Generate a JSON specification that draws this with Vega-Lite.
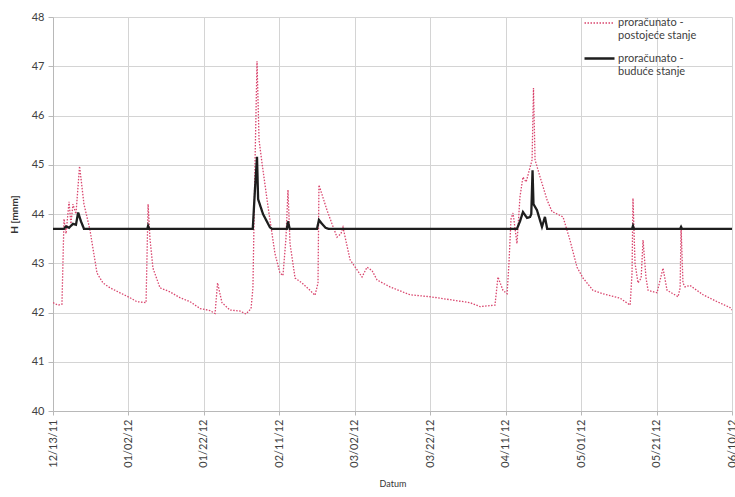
{
  "$schema": "https://vega.github.io/schema/vega-lite/v6.json",
  "autosize": {"type": "none"},
  "width": 679,
  "height": 394,
  "padding": {"left": 53, "top": 17, "right": 3, "bottom": 86},
  "background": "white",
  "config": {
    "view": {"stroke": null},
    "font": "Lato",
    "axis": {
      "gridColor": "#d4d4d4",
      "gridWidth": 1,
      "domainColor": "#b8b8b8",
      "tickColor": "#b8b8b8",
      "labelColor": "#404040",
      "labelFont": "Lato",
      "labelFontSize": 11,
      "titleFont": "Lato",
      "titleColor": "#333333"
    },
    "legend": {
      "labelFont": "Lato",
      "labelFontSize": 11,
      "labelColor": "#404040"
    }
  },
  "data": {
    "values": [
      {"date": "2011-12-13T00:00", "H": 42.2, "series": "proračunato - postojeće stanje"},
      {"date": "2011-12-14T08:00", "H": 42.15, "series": "proračunato - postojeće stanje"},
      {"date": "2011-12-15T09:00", "H": 42.17, "series": "proračunato - postojeće stanje"},
      {"date": "2011-12-15T22:00", "H": 43.9, "series": "proračunato - postojeće stanje"},
      {"date": "2011-12-16T11:00", "H": 43.6, "series": "proračunato - postojeće stanje"},
      {"date": "2011-12-17T06:00", "H": 44.25, "series": "proračunato - postojeće stanje"},
      {"date": "2011-12-17T18:00", "H": 43.8, "series": "proračunato - postojeće stanje"},
      {"date": "2011-12-18T07:00", "H": 44.2, "series": "proračunato - postojeće stanje"},
      {"date": "2011-12-19T02:00", "H": 44.0, "series": "proračunato - postojeće stanje"},
      {"date": "2011-12-20T01:00", "H": 44.97, "series": "proračunato - postojeće stanje"},
      {"date": "2011-12-21T05:00", "H": 44.2, "series": "proračunato - postojeće stanje"},
      {"date": "2011-12-22T19:00", "H": 43.68, "series": "proračunato - postojeće stanje"},
      {"date": "2011-12-24T16:00", "H": 42.8, "series": "proračunato - postojeće stanje"},
      {"date": "2011-12-26T06:00", "H": 42.6, "series": "proračunato - postojeće stanje"},
      {"date": "2011-12-28T03:00", "H": 42.5, "series": "proračunato - postojeće stanje"},
      {"date": "2011-12-30T18:00", "H": 42.4, "series": "proračunato - postojeće stanje"},
      {"date": "2012-01-02T10:00", "H": 42.3, "series": "proračunato - postojeće stanje"},
      {"date": "2012-01-04T06:00", "H": 42.22, "series": "proračunato - postojeće stanje"},
      {"date": "2012-01-06T16:00", "H": 42.2, "series": "proračunato - postojeće stanje"},
      {"date": "2012-01-07T05:00", "H": 44.2, "series": "proračunato - postojeće stanje"},
      {"date": "2012-01-07T17:00", "H": 43.5, "series": "proračunato - postojeće stanje"},
      {"date": "2012-01-08T12:00", "H": 42.9, "series": "proračunato - postojeće stanje"},
      {"date": "2012-01-10T09:00", "H": 42.5, "series": "proračunato - postojeće stanje"},
      {"date": "2012-01-13T00:00", "H": 42.42, "series": "proračunato - postojeće stanje"},
      {"date": "2012-01-15T16:00", "H": 42.3, "series": "proračunato - postojeće stanje"},
      {"date": "2012-01-18T08:00", "H": 42.22, "series": "proračunato - postojeće stanje"},
      {"date": "2012-01-21T00:00", "H": 42.08, "series": "proračunato - postojeće stanje"},
      {"date": "2012-01-23T15:00", "H": 42.04, "series": "proračunato - postojeće stanje"},
      {"date": "2012-01-24T23:00", "H": 41.98, "series": "proračunato - postojeće stanje"},
      {"date": "2012-01-25T15:00", "H": 42.6, "series": "proračunato - postojeće stanje"},
      {"date": "2012-01-26T19:00", "H": 42.2, "series": "proračunato - postojeće stanje"},
      {"date": "2012-01-28T22:00", "H": 42.05, "series": "proračunato - postojeće stanje"},
      {"date": "2012-01-31T14:00", "H": 42.03, "series": "proračunato - postojeće stanje"},
      {"date": "2012-02-02T04:00", "H": 41.97, "series": "proračunato - postojeće stanje"},
      {"date": "2012-02-03T12:00", "H": 42.08, "series": "proračunato - postojeće stanje"},
      {"date": "2012-02-04T00:00", "H": 42.5, "series": "proračunato - postojeće stanje"},
      {"date": "2012-02-04T13:00", "H": 45.0, "series": "proračunato - postojeće stanje"},
      {"date": "2012-02-05T02:00", "H": 47.1, "series": "proračunato - postojeće stanje"},
      {"date": "2012-02-05T15:00", "H": 45.5, "series": "proračunato - postojeće stanje"},
      {"date": "2012-02-06T10:00", "H": 45.03, "series": "proračunato - postojeće stanje"},
      {"date": "2012-02-08T00:00", "H": 44.15, "series": "proračunato - postojeće stanje"},
      {"date": "2012-02-09T20:00", "H": 43.2, "series": "proračunato - postojeće stanje"},
      {"date": "2012-02-11T04:00", "H": 42.8, "series": "proračunato - postojeće stanje"},
      {"date": "2012-02-11T23:00", "H": 42.75, "series": "proračunato - postojeće stanje"},
      {"date": "2012-02-12T18:00", "H": 43.5, "series": "proračunato - postojeće stanje"},
      {"date": "2012-02-13T07:00", "H": 44.49, "series": "proračunato - postojeće stanje"},
      {"date": "2012-02-13T20:00", "H": 43.4, "series": "proračunato - postojeće stanje"},
      {"date": "2012-02-15T04:00", "H": 42.7, "series": "proračunato - postojeće stanje"},
      {"date": "2012-02-17T00:00", "H": 42.6, "series": "proračunato - postojeće stanje"},
      {"date": "2012-02-19T03:00", "H": 42.45, "series": "proračunato - postojeće stanje"},
      {"date": "2012-02-20T11:00", "H": 42.35, "series": "proračunato - postojeće stanje"},
      {"date": "2012-02-21T06:00", "H": 42.6, "series": "proračunato - postojeće stanje"},
      {"date": "2012-02-21T12:00", "H": 44.59, "series": "proračunato - postojeće stanje"},
      {"date": "2012-02-22T07:00", "H": 44.4, "series": "proračunato - postojeće stanje"},
      {"date": "2012-02-23T15:00", "H": 44.08, "series": "proračunato - postojeće stanje"},
      {"date": "2012-02-24T23:00", "H": 43.8, "series": "proračunato - postojeće stanje"},
      {"date": "2012-02-26T07:00", "H": 43.53, "series": "proračunato - postojeće stanje"},
      {"date": "2012-02-27T08:00", "H": 43.6, "series": "proračunato - postojeće stanje"},
      {"date": "2012-02-27T21:00", "H": 43.73, "series": "proračunato - postojeće stanje"},
      {"date": "2012-02-29T18:00", "H": 43.07, "series": "proračunato - postojeće stanje"},
      {"date": "2012-03-02T14:00", "H": 42.87, "series": "proračunato - postojeće stanje"},
      {"date": "2012-03-03T22:00", "H": 42.72, "series": "proračunato - postojeće stanje"},
      {"date": "2012-03-05T06:00", "H": 42.92, "series": "proračunato - postojeće stanje"},
      {"date": "2012-03-06T14:00", "H": 42.85, "series": "proračunato - postojeće stanje"},
      {"date": "2012-03-07T22:00", "H": 42.66, "series": "proračunato - postojeće stanje"},
      {"date": "2012-03-11T08:00", "H": 42.52, "series": "proračunato - postojeće stanje"},
      {"date": "2012-03-16T15:00", "H": 42.36, "series": "proračunato - postojeće stanje"},
      {"date": "2012-03-21T23:00", "H": 42.32, "series": "proračunato - postojeće stanje"},
      {"date": "2012-03-27T06:00", "H": 42.26, "series": "proračunato - postojeće stanje"},
      {"date": "2012-04-01T13:00", "H": 42.2, "series": "proračunato - postojeće stanje"},
      {"date": "2012-04-04T05:00", "H": 42.12, "series": "proračunato - postojeće stanje"},
      {"date": "2012-04-08T04:00", "H": 42.15, "series": "proračunato - postojeće stanje"},
      {"date": "2012-04-08T23:00", "H": 42.72, "series": "proračunato - postojeće stanje"},
      {"date": "2012-04-10T07:00", "H": 42.45, "series": "proračunato - postojeće stanje"},
      {"date": "2012-04-11T09:00", "H": 42.38, "series": "proračunato - postojeće stanje"},
      {"date": "2012-04-11T21:00", "H": 43.0, "series": "proračunato - postojeće stanje"},
      {"date": "2012-04-12T10:00", "H": 43.9, "series": "proračunato - postojeće stanje"},
      {"date": "2012-04-12T23:00", "H": 44.02, "series": "proračunato - postojeće stanje"},
      {"date": "2012-04-14T00:00", "H": 43.4, "series": "proračunato - postojeće stanje"},
      {"date": "2012-04-14T19:00", "H": 44.35, "series": "proračunato - postojeće stanje"},
      {"date": "2012-04-15T14:00", "H": 44.75, "series": "proračunato - postojeće stanje"},
      {"date": "2012-04-16T10:00", "H": 44.65, "series": "proračunato - postojeće stanje"},
      {"date": "2012-04-16T22:00", "H": 44.79, "series": "proračunato - postojeće stanje"},
      {"date": "2012-04-18T00:00", "H": 45.1, "series": "proračunato - postojeće stanje"},
      {"date": "2012-04-18T09:00", "H": 46.56, "series": "proračunato - postojeće stanje"},
      {"date": "2012-04-18T19:00", "H": 45.1, "series": "proračunato - postojeće stanje"},
      {"date": "2012-04-20T03:00", "H": 44.75, "series": "proračunato - postojeće stanje"},
      {"date": "2012-04-22T00:00", "H": 44.28, "series": "proračunato - postojeće stanje"},
      {"date": "2012-04-23T07:00", "H": 44.05, "series": "proračunato - postojeće stanje"},
      {"date": "2012-04-24T15:00", "H": 44.0, "series": "proračunato - postojeće stanje"},
      {"date": "2012-04-26T05:00", "H": 43.94, "series": "proračunato - postojeće stanje"},
      {"date": "2012-04-28T01:00", "H": 43.47, "series": "proračunato - postojeće stanje"},
      {"date": "2012-04-29T22:00", "H": 42.92, "series": "proračunato - postojeće stanje"},
      {"date": "2012-05-01T12:00", "H": 42.7, "series": "proračunato - postojeće stanje"},
      {"date": "2012-05-04T04:00", "H": 42.45, "series": "proračunato - postojeće stanje"},
      {"date": "2012-05-06T19:00", "H": 42.38, "series": "proračunato - postojeće stanje"},
      {"date": "2012-05-11T08:00", "H": 42.29, "series": "proračunato - postojeće stanje"},
      {"date": "2012-05-14T00:00", "H": 42.15, "series": "proračunato - postojeće stanje"},
      {"date": "2012-05-14T12:00", "H": 42.8, "series": "proračunato - postojeće stanje"},
      {"date": "2012-05-14T18:00", "H": 44.32, "series": "proračunato - postojeće stanje"},
      {"date": "2012-05-15T07:00", "H": 43.0, "series": "proračunato - postojeće stanje"},
      {"date": "2012-05-16T02:00", "H": 42.6, "series": "proračunato - postojeće stanje"},
      {"date": "2012-05-16T22:00", "H": 42.7, "series": "proračunato - postojeće stanje"},
      {"date": "2012-05-17T10:00", "H": 43.47, "series": "proračunato - postojeće stanje"},
      {"date": "2012-05-18T05:00", "H": 42.7, "series": "proračunato - postojeće stanje"},
      {"date": "2012-05-18T18:00", "H": 42.45, "series": "proračunato - postojeće stanje"},
      {"date": "2012-05-21T03:00", "H": 42.4, "series": "proračunato - postojeće stanje"},
      {"date": "2012-05-22T17:00", "H": 42.9, "series": "proračunato - postojeće stanje"},
      {"date": "2012-05-23T19:00", "H": 42.45, "series": "proračunato - postojeće stanje"},
      {"date": "2012-05-26T17:00", "H": 42.32, "series": "proračunato - postojeće stanje"},
      {"date": "2012-05-27T06:00", "H": 42.5, "series": "proračunato - postojeće stanje"},
      {"date": "2012-05-27T12:00", "H": 43.74, "series": "proračunato - postojeće stanje"},
      {"date": "2012-05-28T00:00", "H": 42.6, "series": "proračunato - postojeće stanje"},
      {"date": "2012-05-28T13:00", "H": 42.52, "series": "proračunato - postojeće stanje"},
      {"date": "2012-05-29T21:00", "H": 42.55, "series": "proračunato - postojeće stanje"},
      {"date": "2012-06-02T08:00", "H": 42.36, "series": "proračunato - postojeće stanje"},
      {"date": "2012-06-06T01:00", "H": 42.22, "series": "proračunato - postojeće stanje"},
      {"date": "2012-06-09T11:00", "H": 42.1, "series": "proračunato - postojeće stanje"},
      {"date": "2012-06-10T00:00", "H": 42.05, "series": "proračunato - postojeće stanje"},

      {"date": "2011-12-13T00:00", "H": 43.7, "series": "proračunato - buduće stanje"},
      {"date": "2011-12-15T22:00", "H": 43.7, "series": "proračunato - buduće stanje"},
      {"date": "2011-12-16T11:00", "H": 43.75, "series": "proračunato - buduće stanje"},
      {"date": "2011-12-17T06:00", "H": 43.72, "series": "proračunato - buduće stanje"},
      {"date": "2011-12-18T07:00", "H": 43.8, "series": "proračunato - buduće stanje"},
      {"date": "2011-12-19T02:00", "H": 43.78, "series": "proračunato - buduće stanje"},
      {"date": "2011-12-19T16:00", "H": 44.03, "series": "proračunato - buduće stanje"},
      {"date": "2011-12-20T10:00", "H": 43.85, "series": "proračunato - buduće stanje"},
      {"date": "2011-12-21T05:00", "H": 43.7, "series": "proračunato - buduće stanje"},
      {"date": "2012-01-07T00:00", "H": 43.7, "series": "proračunato - buduće stanje"},
      {"date": "2012-01-07T05:00", "H": 43.76, "series": "proračunato - buduće stanje"},
      {"date": "2012-01-07T12:00", "H": 43.7, "series": "proračunato - buduće stanje"},
      {"date": "2012-02-03T23:00", "H": 43.7, "series": "proračunato - buduće stanje"},
      {"date": "2012-02-04T13:00", "H": 44.5, "series": "proračunato - buduće stanje"},
      {"date": "2012-02-05T02:00", "H": 45.16, "series": "proračunato - buduće stanje"},
      {"date": "2012-02-05T09:00", "H": 44.3, "series": "proračunato - buduće stanje"},
      {"date": "2012-02-06T16:00", "H": 44.0, "series": "proračunato - buduće stanje"},
      {"date": "2012-02-08T12:00", "H": 43.73, "series": "proračunato - buduće stanje"},
      {"date": "2012-02-09T00:00", "H": 43.7, "series": "proračunato - buduće stanje"},
      {"date": "2012-02-13T00:00", "H": 43.7, "series": "proračunato - buduće stanje"},
      {"date": "2012-02-13T07:00", "H": 43.85, "series": "proračunato - buduće stanje"},
      {"date": "2012-02-13T18:00", "H": 43.7, "series": "proračunato - buduće stanje"},
      {"date": "2012-02-21T00:00", "H": 43.7, "series": "proračunato - buduće stanje"},
      {"date": "2012-02-21T12:00", "H": 43.88, "series": "proračunato - buduće stanje"},
      {"date": "2012-02-22T07:00", "H": 43.8, "series": "proračunato - buduće stanje"},
      {"date": "2012-02-23T06:00", "H": 43.72, "series": "proračunato - buduće stanje"},
      {"date": "2012-02-24T00:00", "H": 43.7, "series": "proračunato - buduće stanje"},
      {"date": "2012-04-14T00:00", "H": 43.7, "series": "proračunato - buduće stanje"},
      {"date": "2012-04-14T19:00", "H": 43.85, "series": "proračunato - buduće stanje"},
      {"date": "2012-04-15T14:00", "H": 44.04, "series": "proračunato - buduće stanje"},
      {"date": "2012-04-16T16:00", "H": 43.92, "series": "proračunato - buduće stanje"},
      {"date": "2012-04-17T11:00", "H": 43.94, "series": "proračunato - buduće stanje"},
      {"date": "2012-04-17T19:00", "H": 44.0, "series": "proračunato - buduće stanje"},
      {"date": "2012-04-18T03:00", "H": 44.89, "series": "proračunato - buduće stanje"},
      {"date": "2012-04-18T09:00", "H": 44.2, "series": "proračunato - buduće stanje"},
      {"date": "2012-04-19T07:00", "H": 44.08, "series": "proračunato - buduće stanje"},
      {"date": "2012-04-20T15:00", "H": 43.74, "series": "proračunato - buduće stanje"},
      {"date": "2012-04-21T10:00", "H": 43.94, "series": "proračunato - buduće stanje"},
      {"date": "2012-04-22T00:00", "H": 43.7, "series": "proračunato - buduće stanje"},
      {"date": "2012-05-14T12:00", "H": 43.7, "series": "proračunato - buduće stanje"},
      {"date": "2012-05-14T18:00", "H": 43.76, "series": "proračunato - buduće stanje"},
      {"date": "2012-05-15T00:00", "H": 43.7, "series": "proračunato - buduće stanje"},
      {"date": "2012-05-27T06:00", "H": 43.7, "series": "proračunato - buduće stanje"},
      {"date": "2012-05-27T12:00", "H": 43.74, "series": "proračunato - buduće stanje"},
      {"date": "2012-05-27T18:00", "H": 43.7, "series": "proračunato - buduće stanje"},
      {"date": "2012-06-10T00:00", "H": 43.7, "series": "proračunato - buduće stanje"}
    ]
  },
  "mark": {"type": "line", "clip": true},
  "encoding": {
    "x": {
      "field": "date",
      "type": "temporal",
      "scale": {"domain": [{"year": 2011, "month": 12, "date": 13}, {"year": 2012, "month": 6, "date": 10}]},
      "axis": {
        "title": "Datum",
        "titleFontSize": 9,
        "titleFontWeight": "normal",
        "titlePadding": 12,
        "format": "%m/%d/%y",
        "labelAngle": -90,
        "labelPadding": 4,
        "tickSize": 4,
        "labelOverlap": false,
        "values": [
          {"year": 2011, "month": 12, "date": 13},
          {"year": 2012, "month": 1, "date": 2},
          {"year": 2012, "month": 1, "date": 22},
          {"year": 2012, "month": 2, "date": 11},
          {"year": 2012, "month": 3, "date": 2},
          {"year": 2012, "month": 3, "date": 22},
          {"year": 2012, "month": 4, "date": 11},
          {"year": 2012, "month": 5, "date": 1},
          {"year": 2012, "month": 5, "date": 21},
          {"year": 2012, "month": 6, "date": 10}
        ]
      }
    },
    "y": {
      "field": "H",
      "type": "quantitative",
      "scale": {"domain": [40, 48], "nice": false, "zero": false},
      "axis": {
        "title": "H [mnm]",
        "titleFontSize": 10,
        "titleFontWeight": "bold",
        "titlePadding": 12,
        "values": [40, 41, 42, 43, 44, 45, 46, 47, 48],
        "tickSize": 5,
        "labelPadding": 4
      }
    },
    "color": {
      "field": "series",
      "type": "nominal",
      "scale": {
        "domain": ["proračunato - postojeće stanje", "proračunato - buduće stanje"],
        "range": ["#d9466e", "#1e1e1e"]
      },
      "legend": {
        "title": null,
        "orient": "none",
        "legendX": 530,
        "legendY": -10,
        "symbolType": "stroke",
        "symbolSize": 900,
        "symbolStrokeWidth": 2,
        "rowPadding": 1,
        "labelOffset": 2,
        "labelExpr": "[slice(datum.label, 0, 13), slice(datum.label, 14)]"
      }
    },
    "strokeDash": {
      "field": "series",
      "type": "nominal",
      "scale": {
        "domain": ["proračunato - postojeće stanje", "proračunato - buduće stanje"],
        "range": [[1.5, 1.5], [1, 0]]
      },
      "legend": {
        "title": null,
        "orient": "none",
        "legendX": 530,
        "legendY": -10,
        "symbolType": "stroke",
        "symbolSize": 900,
        "symbolStrokeWidth": 2,
        "rowPadding": 1,
        "labelOffset": 2,
        "labelExpr": "[slice(datum.label, 0, 13), slice(datum.label, 14)]"
      }
    },
    "strokeWidth": {
      "field": "series",
      "type": "nominal",
      "scale": {
        "domain": ["proračunato - postojeće stanje", "proračunato - buduće stanje"],
        "range": [1.3, 2.3]
      },
      "legend": null
    }
  }
}
